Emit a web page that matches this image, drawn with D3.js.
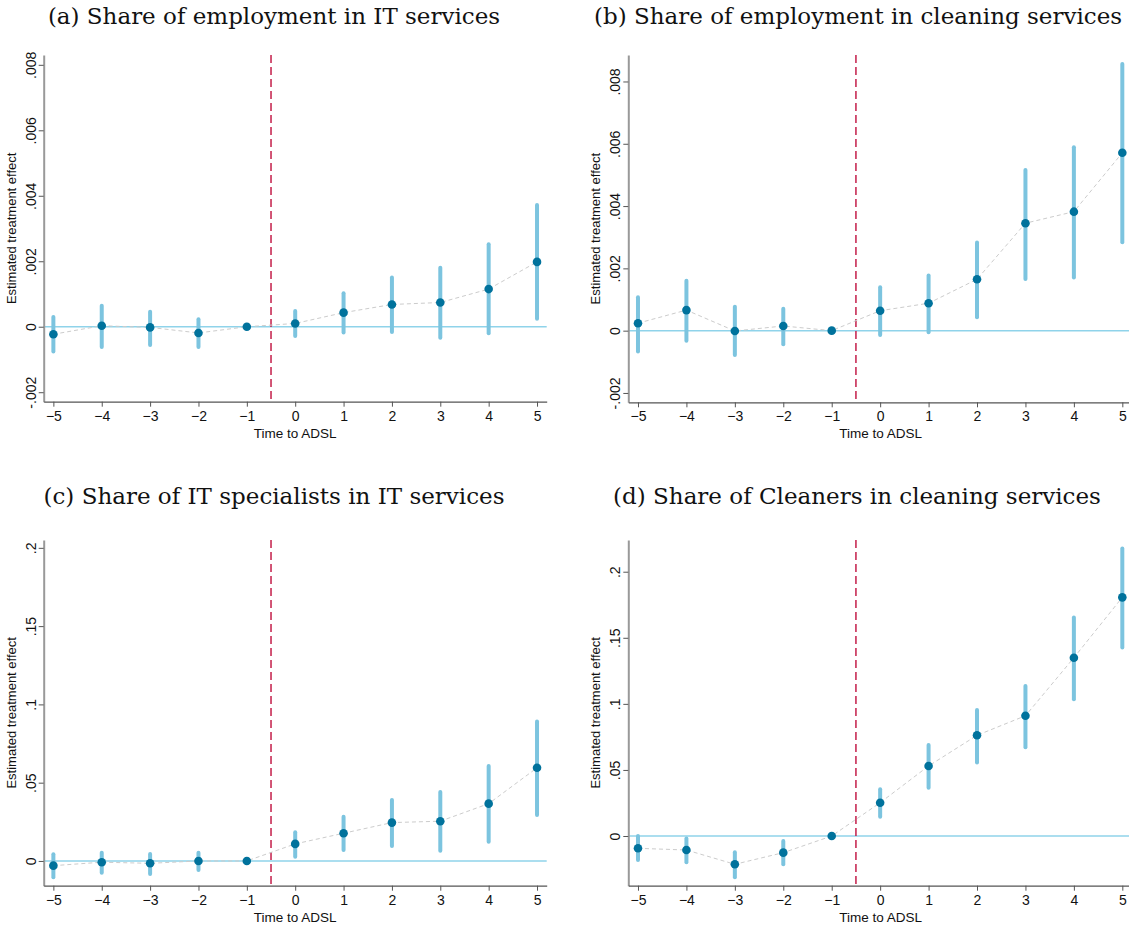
<!DOCTYPE html>
<html>
<head>
<meta charset="utf-8">
<script src="https://cdn.jsdelivr.net/npm/d3@7"></script>
<style>
  body { margin: 0; background: #fff; }
  svg { display: block; }
</style>
</head>
<body>
<div id="chart"></div>
<script>
// event time periods
const periods = [-5, -4, -3, -2, -1, 0, 1, 2, 3, 4, 5];

// (a) share of employment in IT services
const itEmpCoef = [-0.00023, 0.00003, -0.00002, -0.00019, 0, 0.0001, 0.00043, 0.00068, 0.00074, 0.00115, 0.00198];
const itEmpLo   = [-0.00076, -0.00062, -0.00056, -0.00062, 0, -0.00028, -0.00018, -0.00016, -0.00034, -0.0002, 0.00024];
const itEmpHi   = [0.0003, 0.00064, 0.00046, 0.00023, 0, 0.00048, 0.00102, 0.0015, 0.0018, 0.00252, 0.00372];

// (b) share of employment in cleaning services
const clEmpCoef = [0.00024, 0.00066, -0.00001, 0.00015, 0, 0.00064, 0.00088, 0.00165, 0.00345, 0.00382, 0.00571];
const clEmpLo   = [-0.00067, -0.00032, -0.00078, -0.00044, 0, -0.00014, -0.00005, 0.00043, 0.00166, 0.00171, 0.00284];
const clEmpHi   = [0.00107, 0.0016, 0.00077, 0.0007, 0, 0.00139, 0.00177, 0.00283, 0.00516, 0.00589, 0.00856];

// (c) share of IT specialists in IT services
const itSpecCoef = [-0.003, -0.0008, -0.0015, 0.0, 0, 0.0109, 0.0177, 0.0245, 0.0254, 0.0366, 0.0595];
const itSpecLo   = [-0.0104, -0.0075, -0.0083, -0.0058, 0, 0.0027, 0.007, 0.0096, 0.0066, 0.0123, 0.0294];
const itSpecHi   = [0.0043, 0.0053, 0.0045, 0.0053, 0, 0.0183, 0.0283, 0.039, 0.044, 0.0607, 0.089];

// (d) share of cleaners in cleaning services
const clSpecCoef = [-0.0093, -0.0106, -0.0214, -0.0126, 0, 0.0252, 0.053, 0.0762, 0.091, 0.1349, 0.1806];
const clSpecLo   = [-0.0182, -0.0199, -0.0313, -0.0214, 0, 0.0146, 0.0366, 0.0557, 0.0671, 0.1034, 0.1427];
const clSpecHi   = [0, -0.0018, -0.0123, -0.0038, 0, 0.0353, 0.0688, 0.0953, 0.1135, 0.1654, 0.2176];

// y tick values and labels
const empTicks = [-0.002, 0, 0.002, 0.004, 0.006, 0.008];
const empTickLabels = ["-.002", "0", ".002", ".004", ".006", ".008"];
const specTicks = [0, 0.05, 0.1, 0.15, 0.2];
const specTickLabels = ["0", ".05", ".1", ".15", ".2"];

const titles = [
  "(a) Share of employment in IT services",
  "(b) Share of employment in cleaning services",
  "(c) Share of IT specialists in IT services",
  "(d) Share of Cleaners in cleaning services"
];

const W = 1129, H = 927;
const svg = d3.select("#chart").append("svg")
  .attr("width", W)
  .attr("height", H);

const panels = [
  {title: titles[0], x0: 43.7, x1: 546.7, y0: 55, y1: 401.7, yDom: [-0.00229, 0.0083],
   ticks: empTicks, labels: empTickLabels, coef: itEmpCoef, lo: itEmpLo, hi: itEmpHi, titleX: 274, titleY: 24},
  {title: titles[1], x0: 628.3, x1: 1132, y0: 55, y1: 402.3, yDom: [-0.0023, 0.00885],
   ticks: empTicks, labels: empTickLabels, coef: clEmpCoef, lo: clEmpLo, hi: clEmpHi, titleX: 858, titleY: 24},
  {title: titles[2], x0: 43.7, x1: 546.7, y0: 540, y1: 885.7, yDom: [-0.0158, 0.205],
   ticks: specTicks, labels: specTickLabels, coef: itSpecCoef, lo: itSpecLo, hi: itSpecHi, titleX: 274, titleY: 504},
  {title: titles[3], x0: 628.3, x1: 1132, y0: 540, y1: 885.7, yDom: [-0.0376, 0.224],
   ticks: specTicks, labels: specTickLabels, coef: clSpecCoef, lo: clSpecLo, hi: clSpecHi, titleX: 857, titleY: 504}
];

panels.forEach(drawPanel);

function drawPanel(p) {
  const x = d3.scaleLinear().domain([-5.2, 5.2]).range([p.x0, p.x1]);
  const y = d3.scaleLinear().domain(p.yDom).range([p.y1, p.y0]);
  const g = svg.append("g");

  // title
  g.append("text")
    .attr("x", p.titleX)
    .attr("y", p.titleY)
    .attr("text-anchor", "middle")
    .style("font-family", "'DejaVu Serif', serif")
    .style("font-size", "23px")
    .attr("fill", "#111")
    .text(p.title);

  // zero reference line
  g.append("line")
    .attr("x1", p.x0).attr("x2", p.x1)
    .attr("y1", y(0)).attr("y2", y(0))
    .attr("stroke", "#8fd3ea")
    .attr("stroke-width", 1.5);

  // treatment onset
  g.append("line")
    .attr("x1", x(-0.5)).attr("x2", x(-0.5))
    .attr("y1", p.y0).attr("y2", p.y1)
    .attr("stroke", "#c41e4a")
    .attr("stroke-width", 1.5)
    .attr("stroke-dasharray", "8,4");

  const pts = periods.map((t, i) => ({t: t, b: p.coef[i], lo: p.lo[i], hi: p.hi[i]}));

  // connecting line
  const line = d3.line().x(d => x(d.t)).y(d => y(d.b));
  g.append("path")
    .datum(pts)
    .attr("d", line)
    .attr("fill", "none")
    .attr("stroke", "#cccccc")
    .attr("stroke-width", 1)
    .attr("stroke-dasharray", "4,3");

  // confidence intervals
  g.selectAll(".ci")
    .data(pts.filter(d => d.t !== -1))
    .join("line")
    .attr("class", "ci")
    .attr("x1", d => x(d.t)).attr("x2", d => x(d.t))
    .attr("y1", d => y(d.lo)).attr("y2", d => y(d.hi))
    .attr("stroke", "#7cc4df")
    .attr("stroke-width", 4)
    .attr("stroke-linecap", "round");

  // point estimates
  g.selectAll(".pt")
    .data(pts)
    .join("circle")
    .attr("class", "pt")
    .attr("cx", d => x(d.t))
    .attr("cy", d => y(d.b))
    .attr("r", 4.3)
    .attr("fill", "#00729c");

  // y axis
  const yAxis = g.append("g")
    .attr("transform", `translate(${p.x0},0)`)
    .call(d3.axisLeft(y).tickValues(p.ticks).tickFormat((d, i) => p.labels[i]).tickSize(5).tickSizeOuter(0));
  yAxis.select(".domain").attr("stroke", "#999").attr("stroke-width", 2);
  yAxis.selectAll(".tick line").attr("stroke", "#555");
  yAxis.selectAll(".tick text")
    .attr("x", null).attr("dy", null)
    .attr("transform", "translate(-8,0) rotate(-90)")
    .attr("text-anchor", "middle")
    .style("font-family", "'Liberation Sans', Arial, sans-serif")
    .style("font-size", "14px")
    .attr("fill", "#111");

  // x axis
  const xAxis = g.append("g")
    .attr("transform", `translate(0,${p.y1})`)
    .call(d3.axisBottom(x).tickValues(periods).tickFormat(d3.format("d")).tickSize(5).tickSizeOuter(0));
  xAxis.select(".domain").attr("stroke", "#555").attr("stroke-width", 1.2);
  xAxis.selectAll(".tick line").attr("stroke", "#555");
  xAxis.selectAll(".tick text")
    .attr("y", 9)
    .style("font-family", "'Liberation Sans', Arial, sans-serif")
    .style("font-size", "14px")
    .attr("fill", "#111");

  // axis titles
  g.append("text")
    .attr("transform", `translate(${p.x0 - 28},${(p.y0 + p.y1) / 2}) rotate(-90)`)
    .attr("text-anchor", "middle")
    .style("font-family", "'Liberation Sans', Arial, sans-serif")
    .style("font-size", "13px")
    .attr("fill", "#111")
    .text("Estimated treatment effect");

  g.append("text")
    .attr("x", (p.x0 + Math.min(p.x1, W)) / 2 + (p.x1 > W ? 2 : 0))
    .attr("y", p.y1 + 36)
    .attr("text-anchor", "middle")
    .style("font-family", "'Liberation Sans', Arial, sans-serif")
    .style("font-size", "13.5px")
    .attr("fill", "#111")
    .text("Time to ADSL");
}
</script>
</body>
</html>
